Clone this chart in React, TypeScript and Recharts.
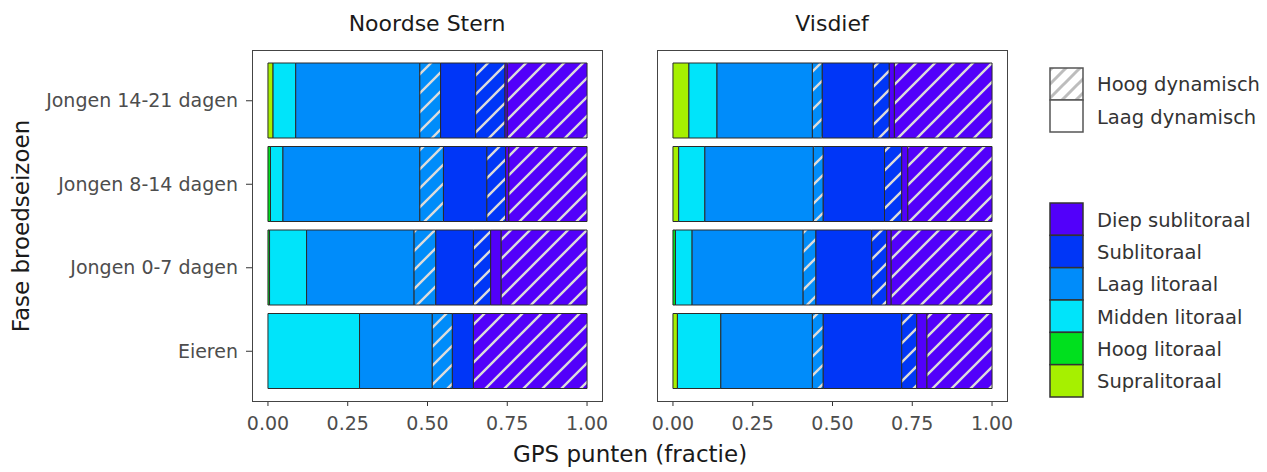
import React from 'react';
import { Bar, BarChart, XAxis, YAxis } from 'recharts';

const stages = ['Jongen 14-21 dagen', 'Jongen 8-14 dagen', 'Jongen 0-7 dagen', 'Eieren'];

// stack order: per zone first laag dynamisch (solid), then hoog dynamisch (hatched)
const seriesKeys = [
  'supra_l', 'supra_h', 'hoog_l', 'hoog_h', 'midden_l', 'midden_h',
  'laag_l', 'laag_h', 'sub_l', 'sub_h', 'diep_l', 'diep_h',
];

// Noordse Stern, one row per stage, values in seriesKeys order
const ns1421 = [0.016, 0, 0, 0, 0.071, 0, 0.389, 0.065, 0.11, 0.092, 0.007, 0.25];
const ns814 = [0, 0, 0.008, 0, 0.039, 0, 0.429, 0.074, 0.136, 0.059, 0.01, 0.245];
const ns07 = [0, 0, 0.005, 0, 0.116, 0, 0.337, 0.068, 0.118, 0.054, 0.033, 0.269];
const nsEi = [0, 0, 0, 0, 0.287, 0, 0.228, 0.063, 0.066, 0, 0, 0.356];

// Visdief
const vd1421 = [0.05, 0, 0, 0, 0.088, 0, 0.299, 0.031, 0.16, 0.05, 0.016, 0.306];
const vd814 = [0.018, 0, 0, 0, 0.082, 0, 0.34, 0.031, 0.192, 0.054, 0.019, 0.264];
const vd07 = [0, 0, 0.008, 0, 0.052, 0, 0.348, 0.04, 0.175, 0.047, 0.014, 0.316];
const vdEi = [0.014, 0, 0, 0, 0.136, 0, 0.287, 0.034, 0.246, 0.047, 0.032, 0.204];

const xTicks = [0, 0.25, 0.5, 0.75, 1];

// legend, top to bottom
const zoneLegend = [
  { key: 'diep', label: 'Diep sublitoraal' },
  { key: 'sub', label: 'Sublitoraal' },
  { key: 'laag', label: 'Laag litoraal' },
  { key: 'midden', label: 'Midden litoraal' },
  { key: 'hoog', label: 'Hoog litoraal' },
  { key: 'supra', label: 'Supralitoraal' },
];
const dynLegend = ['Hoog dynamisch', 'Laag dynamisch'];

const zoneColors: Record<string, string> = {
  diep: '#5200FA',
  sub: '#0036F7',
  laag: '#008CFA',
  midden: '#00E4FA',
  hoog: '#00E01E',
  supra: '#A6F000',
};

const FONT = '"DejaVu Sans", Verdana, sans-serif';

function toRows(rows: number[][]) {
  return stages.map((stage, i) => {
    const row: Record<string, number | string> = { stage };
    seriesKeys.forEach((k, j) => {
      row[k] = rows[i][j];
    });
    return row;
  });
}

const nsData = toRows([ns1421, ns814, ns07, nsEi]);
const vdData = toRows([vd1421, vd814, vd07, vdEi]);

function Patterns() {
  return (
    <svg width={0} height={0} style={{ position: 'absolute' }}>
      <defs>
        {Object.keys(zoneColors).map((z) => (
          <pattern key={z} id={`hatch-${z}`} patternUnits="userSpaceOnUse" width={19} height={19}>
            <rect width={19} height={19} fill={zoneColors[z]} />
            <path d="M-5,5 L5,-5 M0,19 L19,0 M14,24 L24,14" stroke="#dcdcdc" strokeWidth={2.4} />
          </pattern>
        ))}
        <pattern id="hatch-legend" patternUnits="userSpaceOnUse" width={14} height={14}>
          <rect width={14} height={14} fill="#fff" />
          <path d="M-3.5,3.5 L3.5,-3.5 M0,14 L14,0 M10.5,17.5 L17.5,10.5" stroke="#bdbdbd" strokeWidth={3} />
        </pattern>
      </defs>
    </svg>
  );
}

function Panel({ data, showY, left }: { data: any[]; showY: boolean; left: number }) {
  const yw = showY ? 252 : 0;
  const ml = showY ? 0 : 20;
  return (
    <div style={{ position: 'absolute', left, top: 0 }}>
      <BarChart
        width={ml + yw + 371}
        height={440}
        data={data}
        layout="vertical"
        margin={{ top: 50, right: 20, bottom: 0, left: ml }}
      >
        <XAxis
          type="number"
          domain={[-0.05, 1.05]}
          ticks={xTicks}
          interval={0}
          allowDataOverflow
          tickFormatter={(v: number) => v.toFixed(2)}
          axisLine={false}
          tickLine={{ stroke: '#333' }}
          tickSize={4}
          tickMargin={11}
          height={38}
          tick={{ fill: '#4d4d4d', fontSize: 19, fontFamily: FONT }}
        />
        <YAxis
          type="category"
          dataKey="stage"
          hide={!showY}
          width={yw}
          padding={{ top: 9, bottom: 9 }}
          axisLine={false}
          tickLine={{ stroke: '#333' }}
          tickSize={6}
          tickMargin={8}
          tick={{ fill: '#4d4d4d', fontSize: 19, fontFamily: FONT }}
        />
        {seriesKeys.map((k) => {
          const zone = k.split('_')[0];
          const hatched = k.endsWith('_h');
          return (
            <Bar
              key={k}
              dataKey={k}
              stackId="a"
              barSize={75}
              fill={hatched ? `url(#hatch-${zone})` : zoneColors[zone]}
              stroke="#2b2b2b"
              strokeWidth={1}
              isAnimationActive={false}
            />
          );
        })}
      </BarChart>
      <div
        style={{
          position: 'absolute',
          left: ml + yw,
          top: 50,
          width: 351,
          height: 352,
          border: '1.5px solid #444',
          boxSizing: 'border-box',
          pointerEvents: 'none',
        }}
      />
    </div>
  );
}

export default function App() {
  const cell = 194 / zoneLegend.length;
  return (
    <div
      style={{
        position: 'absolute',
        left: 0,
        top: 0,
        width: 1267,
        height: 472,
        background: '#fff',
        fontFamily: FONT,
        overflow: 'hidden',
      }}
    >
      <Patterns />
      <Panel data={nsData} showY left={0} />
      <Panel data={vdData} showY={false} left={637} />
      <svg width={1267} height={472} style={{ position: 'absolute', left: 0, top: 0, pointerEvents: 'none' }}>
        <g fontFamily={FONT}>
          <text x={427} y={31} textAnchor="middle" fontSize={22} fill="#1a1a1a">Noordse Stern</text>
          <text x={832} y={31} textAnchor="middle" fontSize={22} fill="#1a1a1a">Visdief</text>
          <text x={630} y={462} textAnchor="middle" fontSize={23} fill="#1a1a1a">GPS punten (fractie)</text>
          <text
            x={29}
            y={226}
            textAnchor="middle"
            fontSize={23}
            fill="#1a1a1a"
            transform="rotate(-90 29 226)"
          >
            Fase broedseizoen
          </text>

          {/* dynamiek legend */}
          <rect x={1050} y={68} width={33} height={32} fill="url(#hatch-legend)" stroke="#555" strokeWidth={1.5} />
          <rect x={1050} y={100} width={33} height={32} fill="#fff" stroke="#555" strokeWidth={1.5} />
          {dynLegend.map((l, i) => (
            <text key={l} x={1097} y={84 + i * 33} dominantBaseline="central" fontSize={19.5} fill="#333">
              {l}
            </text>
          ))}

          {/* zone legend */}
          {zoneLegend.map((z, i) => (
            <g key={z.key}>
              <rect
                x={1050}
                y={203 + i * cell}
                width={33}
                height={cell}
                fill={zoneColors[z.key]}
                stroke="#333"
                strokeWidth={1.5}
              />
              <text x={1097} y={203 + i * cell + cell / 2 + 1} dominantBaseline="central" fontSize={19.5} fill="#333">
                {z.label}
              </text>
            </g>
          ))}
        </g>
      </svg>
    </div>
  );
}
